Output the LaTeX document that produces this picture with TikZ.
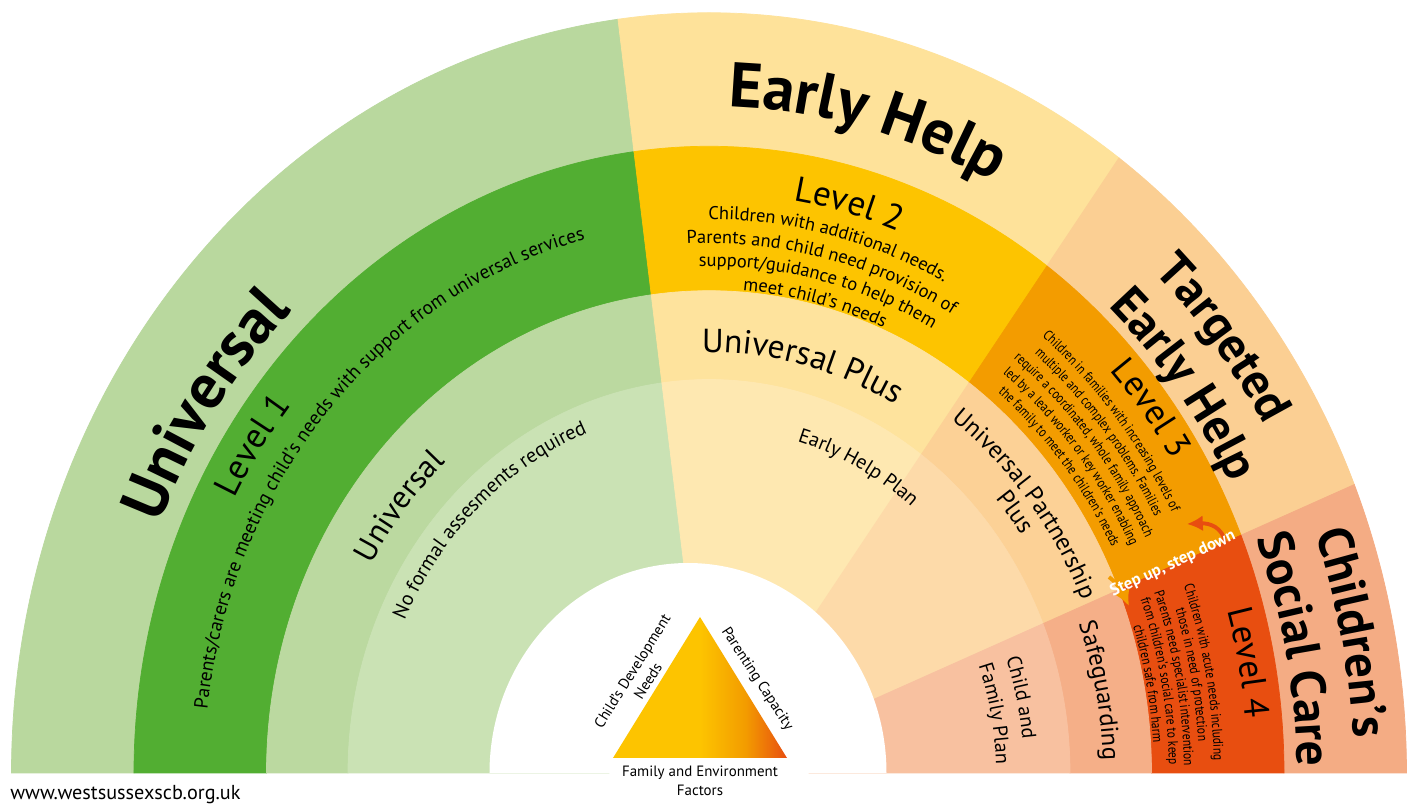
\documentclass[tikz,border=0pt]{standalone}
\usepackage{fontspec}
\setmainfont{PT Sans}
\newfontfamily\narrowfont[FakeStretch=0.82]{PT Sans}
\usetikzlibrary{decorations.text, arrows.meta}

\definecolor{unione}{HTML}{B9D89E}
\definecolor{lvlone}{HTML}{52AE32}
\definecolor{unithree}{HTML}{BBD9A0}
\definecolor{unifour}{HTML}{CAE2B4}
\definecolor{ehone}{HTML}{FEE29A}
\definecolor{lvltwo}{HTML}{FDC400}
\definecolor{ehthree}{HTML}{FEE39D}
\definecolor{ehfour}{HTML}{FEE8B1}
\definecolor{tehone}{HTML}{FBCF93}
\definecolor{lvlthree}{HTML}{F39C00}
\definecolor{tehthree}{HTML}{FCD196}
\definecolor{tehfour}{HTML}{FDDAA9}
\definecolor{cscone}{HTML}{F4AC84}
\definecolor{lvlfour}{HTML}{E84E10}
\definecolor{cscthree}{HTML}{F5AF88}
\definecolor{cscfour}{HTML}{F8C1A0}

\pgfdeclarehorizontalshading{triangleshade}{100bp}{color(0bp)=(lvltwo); color(50bp)=(lvltwo); color(63bp)=(lvlthree); color(75bp)=(lvlfour); color(100bp)=(lvlfour)}

% the rings are a little taller than wide
\def\ky{1.09}
% piece of a ring: colour, inner radius, outer radius, from angle, to angle
\newcommand{\sector}[5]{%
  \path[fill=#1, draw=#1, line width=0.4pt] ({#2*cos(#4)},{\ky*#2*sin(#4)})
    arc[start angle=#4, end angle=#5, x radius=#2, y radius=\ky*#2]
    -- ({#3*cos(#5)},{\ky*#3*sin(#5)})
    arc[start angle=#5, end angle=#4, x radius=#3, y radius=\ky*#3] -- cycle;}
% text bent along a ring: [half span], baseline radius, centre angle, font, text
\newcommand{\arctext}[5][30]{%
  \path[decorate, decoration={text along path, text align=center, text={|#4|#5}}]
    ({#2*cos(#3+#1)},{\ky*#2*sin(#3+#1)})
    arc[start angle=#3+#1, end angle=#3-#1, x radius=#2, y radius=\ky*#2];}

\newcommand{\titlefont}{\fontsize{36}{40}\selectfont\bfseries}
\newcommand{\subtitlefont}{\fontsize{28}{32}\selectfont\bfseries}
\newcommand{\levelfont}{\fontsize{20}{24}\selectfont}
\newcommand{\descfont}{\fontsize{10.5}{12}\selectfont}
\newcommand{\smallfont}{\narrowfont\fontsize{8}{9}\selectfont}
\newcommand{\servicefont}{\fontsize{19}{22}\selectfont}
\newcommand{\partnerfont}{\fontsize{14}{16}\selectfont}
\newcommand{\planfont}{\fontsize{11.5}{14}\selectfont}

\tikzstyle{stepline} = [line width=2.2pt, -{Latex[length=9pt, width=9pt]}]
\tikzstyle{stepping label} = [text=white, font=\fontsize{9.5}{11}\selectfont\bfseries, inner sep=0pt]
\tikzstyle{tri label} = [font=\fontsize{8.5}{10.5}\selectfont, align=center, inner sep=1pt]

\begin{document}
\begin{tikzpicture}[x=0.2mm, y=0.2mm]
  \useasboundingbox (-709,-35) rectangle (706,773);
  \fill[white] (-709,-35) rectangle (706,773);
  % Draw rings
  % universal
  \sector{unione}{575}{697.5}{180}{97.5}
  \sector{lvlone}{442.5}{575}{180}{97.5}
  \sector{unithree}{361}{442.5}{180}{97.5}
  \sector{unifour}{100}{361}{180}{97.5}
  % early help
  \sector{ehone}{575}{697.5}{97.5}{54}
  \sector{lvltwo}{442.5}{575}{97.5}{54}
  \sector{ehthree}{361}{442.5}{97.5}{54}
  \sector{ehfour}{100}{361}{97.5}{54}
  % targeted early help
  \sector{tehone}{575}{697.5}{54}{22.3}
  \sector{lvlthree}{442.5}{575}{54}{22.3}
  \sector{tehthree}{361}{442.5}{54}{22.3}
  \sector{tehfour}{100}{361}{54}{22.3}
  % children's social care
  \sector{cscone}{575}{697.5}{22.3}{0}
  \sector{lvlfour}{442.5}{575}{22.3}{0}
  \sector{cscthree}{361}{442.5}{22.3}{0}
  \sector{cscfour}{100}{361}{22.3}{0}
  % hole in the middle
  \fill[white] (177.5,0) arc[start angle=0, end angle=180, x radius=198.5, y radius=210] -- cycle;

  % Outer ring titles
  \arctext{595}{145.5}{\titlefont}{Universal}
  \arctext{612}{75.5}{\titlefont}{Early Help}
  \arctext{640}{38.5}{\subtitlefont}{Targeted}
  \arctext{585}{37.5}{\subtitlefont}{Early Help}
  \arctext{645}{11.6}{\subtitlefont}{Children’s}
  \arctext{588}{11.2}{\subtitlefont}{Social Care}

  % Levels
  \arctext{537}{146}{\levelfont}{Level 1}
  \arctext[42]{505}{138.5}{\descfont\fontsize{11}{13}\selectfont}{Parents/carers are meeting child’s needs with support from universal services}
  \arctext{532}{75.3}{\levelfont}{Level 2}
  \arctext{508}{76.5}{\descfont}{Children with additional needs.}
  \arctext{486}{76.5}{\descfont}{Parents and child need provision of}
  \arctext{465}{76.5}{\descfont}{support/guidance to help them}
  \arctext{444}{76.5}{\descfont}{meet child’s needs}
  \arctext{545}{37.8}{\levelfont}{Level 3}
  \arctext{521}{39.3}{\smallfont}{Children in families with increasing levels of}
  \arctext{504}{39.3}{\smallfont}{multiple and complex problems. Families}
  \arctext{487}{39.3}{\smallfont}{require a coordinated, whole family approach}
  \arctext{470}{39.3}{\smallfont}{led by a lead worker or key worker enabling}
  \arctext{453}{39.3}{\smallfont}{the family to meet the children’s needs}
  \arctext{539}{10.9}{\levelfont}{Level 4}
  \arctext{505}{10.8}{\smallfont}{Children with acute needs including}
  \arctext{490}{10.8}{\smallfont}{those in need of protection}
  \arctext{475}{10.8}{\smallfont}{Parents need specialist intervention}
  \arctext{460}{10.8}{\smallfont}{from children’s social care to keep}
  \arctext{445}{10.8}{\smallfont}{children safe from harm}

  % Services
  \arctext{388}{141}{\fontsize{18}{21}\selectfont}{Universal}
  \arctext{386}{76.3}{\servicefont}{Universal Plus}
  \arctext{405}{38.6}{\partnerfont}{Universal Partnership}
  \arctext{381}{38.7}{\partnerfont}{Plus}
  \arctext{394}{11.2}{\partnerfont}{Safeguarding}

  % Plans
  \arctext{335}{133}{\planfont}{No formal assesments required}
  \arctext{317}{62.5}{\planfont}{Early Help Plan}
  \arctext{315}{12.8}{\planfont}{Child and}
  \arctext{287}{11}{\planfont}{Family Plan}

  % Step up, step down
  \coordinate (downfrom) at (516,230);
  \coordinate (downto) at (478,249);
  \coordinate (upfrom) at (400,196);
  \coordinate (upto) at (420,167);
  \draw[stepline, lvlfour] (downfrom) .. controls (514,246) and (500,250) .. (downto);
  \draw[stepline, lvlthree] (upfrom) .. controls (408,190) and (414,180) .. (upto);
  \node[stepping label, rotate=25] (stepping) at (464,209) {Step up, step down};

  % Assessment triangle
  \coordinate (tritop) at (-9,156);
  \coordinate (trileft) at (-96,15);
  \coordinate (triright) at (78,15);
  \shade[shading=triangleshade] (trileft) -- (tritop) -- (triright) -- cycle;
  \node[tri label, rotate=58] (needs) at (-69,97) {Child’s Development\\Needs};
  \node[tri label, rotate=-57] (capacity) at (48,94) {Parenting Capacity};
  \node[tri label] (factors) at (-9,-8) {Family and Environment\\Factors};

  % Web address
  \node[anchor=west, font=\fontsize{11.5}{14}\selectfont, inner sep=0pt] (web) at (-699,-22) {www.westsussexscb.org.uk};
\end{tikzpicture}
\end{document}
